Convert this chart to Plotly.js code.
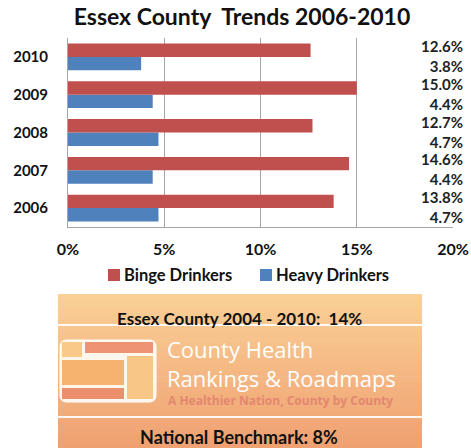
<!DOCTYPE html>
<html>
<head>
<meta charset="utf-8">
<script src="https://cdn.plot.ly/plotly-3.0.1.min.js"></script>
<style>html,body{margin:0;padding:0;background:#fff;}#chart{width:471px;height:448px;}</style>
</head>
<body>
<div id="chart"></div>
<script>
// ---- data ----
const years = ['2006', '2007', '2008', '2009', '2010'];
const bingeDrinkers = [13.8, 14.6, 12.7, 15.0, 12.6];
const heavyDrinkers = [4.7, 4.4, 4.7, 4.4, 3.8];
const xTicks = [0, 5, 10, 15, 20];
const seriesNames = ['Binge Drinkers', 'Heavy Drinkers'];
const chartTitle = 'Essex County  Trends 2006-2010';
const countyText = 'Essex County 2004 - 2010:  14%';
const benchmarkText = 'National Benchmark: 8%';
const logoLines = ['County Health', 'Rankings &amp; Roadmaps'];
const logoTag = 'A Healthier Nation, County by County';

// ---- layout helpers (pixel -> paper) ----
const W = 471, H = 448, L = 68, R = 453, T = 38, B = 227;
const px = x => (x - L) / (R - L);
const py = y => (B - y) / (B - T);
const FONT = 'Lato, "Open Sans", sans-serif';
const RED = '#c0504d', BLUE = '#4f81bd';

const shapes = [];
const annotations = [];

// gradient box
const boxX0 = 58, boxX1 = 422, boxY0 = 294, boxY1 = 448;
const c0 = [250, 207, 149], c1 = [239, 161, 114];
const steps = 30;
for (let i = 0; i < steps; i++) {
  const t = i / (steps - 1);
  const c = c0.map((v, k) => Math.round(v + (c1[k] - v) * t));
  const ya = boxY0 + (boxY1 - boxY0) * i / steps;
  const yb = boxY0 + (boxY1 - boxY0) * (i + 1) / steps + 0.6;
  shapes.push({type: 'rect', xref: 'paper', yref: 'paper', layer: 'below',
    x0: px(boxX0), x1: px(boxX1), y0: py(ya), y1: py(Math.min(yb, boxY1)),
    fillcolor: `rgb(${c[0]},${c[1]},${c[2]})`, line: {width: 0}});
}
[325, 417].forEach(y => shapes.push({type: 'line', xref: 'paper', yref: 'paper',
  x0: px(boxX0), x1: px(boxX1), y0: py(y), y1: py(y), line: {color: 'rgba(255,255,255,0.9)', width: 2}}));

// logo
function rrect(x0, y0, x1, y1, r) {
  const P = (x, y) => px(x) + ',' + py(y);
  return 'M' + P(x0 + r, y0) + ' L' + P(x1 - r, y0) + ' Q' + P(x1, y0) + ' ' + P(x1, y0 + r) +
    ' L' + P(x1, y1 - r) + ' Q' + P(x1, y1) + ' ' + P(x1 - r, y1) +
    ' L' + P(x0 + r, y1) + ' Q' + P(x0, y1) + ' ' + P(x0, y1 - r) +
    ' L' + P(x0, y0 + r) + ' Q' + P(x0, y0) + ' ' + P(x0 + r, y0) + ' Z';
}
shapes.push({type: 'path', xref: 'paper', yref: 'paper', path: rrect(60, 340, 156, 402, 7),
  fillcolor: '#fff6ec', line: {color: '#ffffff', width: 1}});
const logoRects = [
  [62, 342, 82, 357, '#f9c98a'],
  [85, 342, 153, 353, '#ee9474'],
  [62, 360, 124, 385, '#f6b26f'],
  [62, 388, 124, 399, '#ec8f6f'],
  [127, 356, 153, 399, '#f8c686']
];
logoRects.forEach(r => shapes.push({type: 'rect', xref: 'paper', yref: 'paper',
  x0: px(r[0]), x1: px(r[2]), y0: py(r[1]), y1: py(r[3]), fillcolor: r[4], line: {width: 0}}));

// box texts
annotations.push({xref: 'paper', yref: 'paper', x: px(239), y: py(318), xanchor: 'center', yanchor: 'middle',
  text: countyText, showarrow: false, font: {family: FONT, size: 17, weight: 'bold', color: '#111'}});
annotations.push({xref: 'paper', yref: 'paper', x: px(239), y: py(437), xanchor: 'center', yanchor: 'middle',
  text: benchmarkText, showarrow: false, font: {family: FONT, size: 18, weight: 'bold', color: '#111'}});
annotations.push({xref: 'paper', yref: 'paper', x: px(165), y: py(363), xanchor: 'left', yanchor: 'middle',
  align: 'left', text: logoLines.join('<br>'), showarrow: false,
  font: {family: '"Open Sans", sans-serif', size: 22, color: '#ffffff'}});
annotations.push({xref: 'paper', yref: 'paper', x: px(166), y: py(401), xanchor: 'left', yanchor: 'middle',
  text: logoTag, showarrow: false, font: {family: '"Open Sans", sans-serif', size: 12, weight: 'bold', color: '#e3876f'}});

// custom legend
const legendItems = [[108, 122, RED], [260, 274, BLUE]];
legendItems.forEach((it, k) => {
  shapes.push({type: 'rect', xref: 'paper', yref: 'paper', x0: px(it[0]), x1: px(it[0] + 12),
    y0: py(269), y1: py(281), fillcolor: it[2], line: {width: 0}});
  annotations.push({xref: 'paper', yref: 'paper', x: px(it[1]), y: py(275), xanchor: 'left', yanchor: 'middle',
    text: seriesNames[k], showarrow: false, font: {family: FONT, size: 16.5, weight: 'bold', color: '#111'}});
});

// value labels (binge above heavy, one block per year)
years.forEach((yr, i) => {
  annotations.push({xref: 'paper', yref: 'y', x: px(465), y: i, yshift: 1, xanchor: 'right', yanchor: 'middle',
    align: 'right', showarrow: false,
    text: bingeDrinkers[i].toFixed(1) + '%<br>' + heavyDrinkers[i].toFixed(1) + '%',
    font: {family: FONT, size: 15, weight: 'bold', color: '#222'}});
});

const traces = [
  {type: 'bar', orientation: 'h', name: seriesNames[1], y: years, x: heavyDrinkers,
   marker: {color: BLUE}, hoverinfo: 'none'},
  {type: 'bar', orientation: 'h', name: seriesNames[0], y: years, x: bingeDrinkers,
   marker: {color: RED}, hoverinfo: 'none'}
];

const layout = {
  width: W, height: H,
  margin: {l: L, r: W - R, t: T, b: H - B, pad: 0},
  paper_bgcolor: '#ffffff', plot_bgcolor: '#ffffff',
  barmode: 'group', bargap: 0.29, bargroupgap: 0,
  showlegend: false,
  title: {text: chartTitle, x: px(242), xref: 'paper', xanchor: 'center',
    y: 1 - 17 / H, yref: 'container', yanchor: 'middle',
    font: {family: FONT, size: 23, weight: 'bold', color: '#111'}},
  xaxis: {range: [0, 20], tickvals: xTicks, ticktext: xTicks.map(v => v + '%'),
    showgrid: true, gridcolor: '#a6a6a6', gridwidth: 1, zeroline: false,
    showline: true, linecolor: '#a6a6a6', linewidth: 1, ticks: '', ticklabelstandoff: 8,
    tickfont: {family: FONT, size: 16, weight: 'bold', color: '#111'}, fixedrange: true},
  yaxis: {type: 'category', categoryorder: 'array', categoryarray: years, range: [-0.5, 4.5],
    showgrid: false, zeroline: false, showline: true, linecolor: '#a6a6a6',
    ticks: '', ticklabelstandoff: 16, tickfont: {family: FONT, size: 15, weight: 'bold', color: '#111'},
    fixedrange: true},
  shapes: shapes,
  annotations: annotations
};

Plotly.newPlot('chart', traces, layout, {displayModeBar: false, staticPlot: true});
</script>
</body>
</html>
